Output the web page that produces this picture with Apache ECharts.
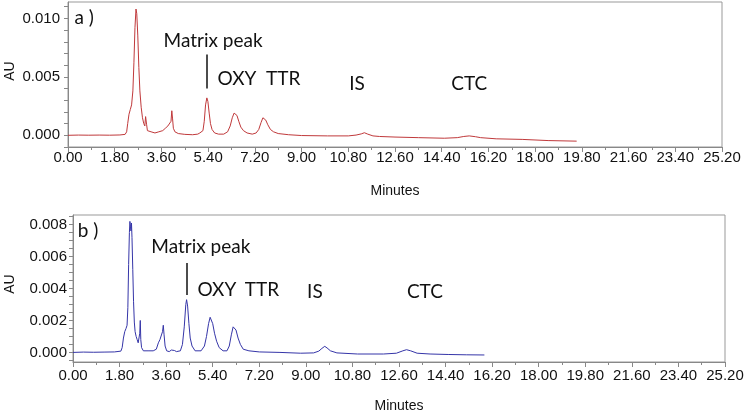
<!DOCTYPE html>
<html>
<head>
<meta charset="utf-8">
<script src="https://cdn.jsdelivr.net/npm/echarts@6/dist/echarts.min.js"></script>
<style>
  html, body { margin: 0; padding: 0; background: #fff; }
  #chart { width: 749px; height: 413px; }
</style>
</head>
<body>
<div id="chart"></div>
<script>
// chromatogram a) (red)
var timeA = [0.00, 0.40, 0.80, 1.20, 1.60, 2.00, 2.20, 2.26, 2.30, 2.35, 2.40, 2.45, 2.50, 2.54, 2.58, 2.62, 2.65, 2.69, 2.73, 2.77,
  2.82, 2.87, 2.92, 2.96, 2.99, 3.01, 3.03, 3.06, 3.10, 3.20, 3.35, 3.50, 3.65, 3.75, 3.85, 3.92, 3.97, 4.00, 4.03, 4.06,
  4.12, 4.25, 4.50, 4.80, 5.00, 5.08, 5.14, 5.20, 5.25, 5.30, 5.35, 5.39, 5.44, 5.49, 5.55, 5.65, 5.80, 6.00, 6.15, 6.25,
  6.33, 6.40, 6.45, 6.51, 6.58, 6.66, 6.76, 6.90, 7.10, 7.25, 7.35, 7.44, 7.51, 7.56, 7.62, 7.70, 7.80, 7.92, 8.10, 8.50,
  9.00, 10.00, 10.80, 11.10, 11.30, 11.42, 11.55, 11.75, 12.00, 12.60, 13.50, 14.50, 15.00, 15.25, 15.46, 15.70, 15.90, 16.50, 17.50, 18.50,
  19.60];
var auA = [0.00000, 0.00002, 0.00001, 0.00002, 0.00001, 0.00003, 0.00008, 0.00030, 0.00100, 0.00180, 0.00220, 0.00260, 0.00380, 0.00620, 0.00920, 0.01080, 0.01040, 0.00850, 0.00580, 0.00380,
  0.00240, 0.00150, 0.00100, 0.00080, 0.00160, 0.00170, 0.00090, 0.00040, 0.00030, 0.00030, 0.00020, 0.00030, 0.00040, 0.00060, 0.00080, 0.00080, 0.00120, 0.00210, 0.00140, 0.00060,
  0.00030, 0.00015, 0.00008, 0.00005, 0.00010, 0.00020, 0.00010, 0.00040, 0.00120, 0.00260, 0.00320, 0.00290, 0.00190, 0.00100, 0.00050, 0.00020, 0.00010, 0.00010, 0.00030, 0.00080,
  0.00150, 0.00190, 0.00200, 0.00170, 0.00120, 0.00070, 0.00040, 0.00020, 0.00010, 0.00020, 0.00050, 0.00110, 0.00150, 0.00155, 0.00130, 0.00090, 0.00050, 0.00030, 0.00015, 0.00005,
  -0.00002, -0.00005, -0.00005, 0.00002, 0.00012, 0.00022, 0.00010, -0.00005, -0.00010, -0.00015, -0.00020, -0.00025, -0.00020, -0.00010, -0.00005, -0.00012, -0.00020, -0.00030, -0.00035, -0.00045,
  -0.00050];

// chromatogram b) (blue)
var timeB = [0.00, 0.40, 0.80, 1.20, 1.60, 1.85, 1.90, 1.95, 2.00, 2.05, 2.09, 2.12, 2.15, 2.18, 2.20, 2.22, 2.24, 2.26, 2.28, 2.31,
  2.34, 2.37, 2.40, 2.44, 2.48, 2.52, 2.55, 2.58, 2.60, 2.62, 2.65, 2.72, 2.90, 3.10, 3.22, 3.30, 3.36, 3.42, 3.46, 3.49,
  3.52, 3.56, 3.62, 3.72, 3.80, 3.86, 3.92, 4.00, 4.15, 4.23, 4.30, 4.36, 4.39, 4.43, 4.48, 4.53, 4.60, 4.72, 4.95, 5.08,
  5.16, 5.24, 5.30, 5.34, 5.40, 5.47, 5.55, 5.65, 5.80, 5.95, 6.04, 6.12, 6.19, 6.24, 6.30, 6.38, 6.47, 6.58, 6.80, 7.20,
  8.00, 8.80, 9.30, 9.50, 9.62, 9.73, 9.82, 9.95, 10.20, 11.00, 12.00, 12.50, 12.75, 12.89, 13.05, 13.30, 13.80, 14.50, 15.20, 15.90];
var auB = [0.00000, 0.00002, 0.00001, 0.00002, 0.00003, 0.00008, 0.00030, 0.00090, 0.00130, 0.00150, 0.00170, 0.00280, 0.00550, 0.00750, 0.00820, 0.00790, 0.00760, 0.00810, 0.00720, 0.00520,
  0.00320, 0.00190, 0.00130, 0.00100, 0.00080, 0.00060, 0.00050, 0.00120, 0.00200, 0.00080, 0.00030, 0.00010, 0.00010, 0.00010, 0.00020, 0.00060, 0.00080, 0.00090, 0.00130, 0.00170,
  0.00110, 0.00040, 0.00010, 0.00005, 0.00015, 0.00020, 0.00012, 0.00005, 0.00010, 0.00050, 0.00160, 0.00300, 0.00330, 0.00290, 0.00180, 0.00090, 0.00040, 0.00010, 0.00010, 0.00040,
  0.00100, 0.00180, 0.00220, 0.00220, 0.00180, 0.00120, 0.00070, 0.00030, 0.00010, 0.00010, 0.00040, 0.00110, 0.00160, 0.00170, 0.00140, 0.00090, 0.00050, 0.00020, 0.00010, 0.00003,
  0.00000, -0.00005, -0.00003, 0.00008, 0.00025, 0.00038, 0.00028, 0.00010, -0.00003, -0.00010, -0.00010, -0.00005, 0.00010, 0.00017, 0.00010, -0.00005, -0.00010, -0.00013, -0.00015, -0.00016];

// axis ticks
var yLabelsA = [0, 0.005, 0.010];
var yTicksA = [-0.001, 0, 0.001, 0.002, 0.003, 0.004, 0.005, 0.006, 0.007, 0.008, 0.009, 0.010, 0.011];
var yLabelsB = [0, 0.002, 0.004, 0.006, 0.008];
var yTicksB = [-0.0005, 0, 0.0005, 0.001, 0.0015, 0.002, 0.0025, 0.003, 0.0035, 0.004, 0.0045, 0.005, 0.0055, 0.006, 0.0065, 0.007, 0.0075, 0.008, 0.0085];

// peak annotations [text, time, AU]
var notesA = [['a )', 0.62, 0.0100], ['Matrix peak', 5.59, 0.0081], ['OXY', 6.51, 0.0048], ['TTR', 8.29, 0.0048], ['IS', 11.14, 0.0044], ['CTC', 15.46, 0.0044]];
var notesB = [['b )', 0.58, 0.0076], ['Matrix peak', 4.94, 0.0066], ['OXY', 5.56, 0.0039], ['TTR', 7.30, 0.0039], ['IS', 9.35, 0.0038], ['CTC', 13.60, 0.0038]];
var barA = [5.36, 0.0040, 0.0069];
var barB = [4.39, 0.0036, 0.0056];

var labelFont = 'Liberation Sans, Arial, sans-serif';
var noteFont = 'Lato, Open Sans, sans-serif';

function zip(t, v) {
  return t.map(function (x, i) { return [x, v[i]]; });
}

function xAxis(gridIndex, margin) {
  return {
    type: 'value', gridIndex: gridIndex,
    min: 0, max: 25.2, interval: 1.8,
    name: 'Minutes', nameLocation: 'middle', nameGap: 37,
    nameTextStyle: { fontFamily: labelFont, fontSize: 14, color: '#111' },
    axisLine: { show: true, onZero: false, lineStyle: { color: '#888' } },
    axisTick: { show: true, length: 5, lineStyle: { color: '#888' } },
    minorTick: { show: true, splitNumber: 2, length: 3, lineStyle: { color: '#888' } },
    splitLine: { show: false },
    axisLabel: {
      fontFamily: labelFont, fontSize: 15, color: '#111', margin: margin,
      formatter: function (v) { return v.toFixed(2); }
    }
  };
}

function yAxis(gridIndex, min, max, labels, ticks, offset, margin) {
  return {
    type: 'value', gridIndex: gridIndex,
    min: min, max: max, offset: offset,
    axisLine: { show: true, lineStyle: { color: '#888' } },
    axisTick: { show: true, length: 4, customValues: ticks, lineStyle: { color: '#888' } },
    splitLine: { show: false },
    axisLabel: {
      fontFamily: labelFont, fontSize: 15, color: '#111', margin: margin,
      customValues: labels,
      formatter: function (v) { return v.toFixed(3); }
    }
  };
}

// rotated "AU" axis titles
function auTitle(y) {
  return {
    type: 'text', x: 10, y: y, rotation: Math.PI / 2,
    style: { text: 'AU', fontFamily: labelFont, fontSize: 14, fill: '#111', align: 'center', verticalAlign: 'middle' }
  };
}

function notePoints(notes) {
  return notes.map(function (n) {
    return {
      coord: [n[1], n[2]], value: n[0],
      symbol: 'circle', symbolSize: 1,
      itemStyle: { color: 'rgba(0,0,0,0)' },
      label: {
        show: true, position: 'inside', formatter: n[0],
        fontFamily: noteFont, fontSize: 19, color: '#111'
      }
    };
  });
}

function series(idx, data, color, notes, bar) {
  return {
    type: 'line', xAxisIndex: idx, yAxisIndex: idx,
    data: data, showSymbol: false, symbol: 'none',
    lineStyle: { color: color, width: 1 },
    silent: true, animation: false,
    markPoint: { silent: true, animation: false, data: notePoints(notes) },
    markLine: {
      silent: true, animation: false, symbol: 'none',
      label: { show: false },
      lineStyle: { color: '#111', width: 1.5, type: 'solid' },
      data: [[{ coord: [bar[0], bar[1]] }, { coord: [bar[0], bar[2]] }]]
    }
  };
}

var chart = echarts.init(document.getElementById('chart'));
chart.setOption({
  animation: false,
  backgroundColor: '#fff',
  grid: [
    { left: 68, right: 27, top: 2, bottom: 266, outerBoundsMode: 'none', show: true, borderColor: '#999', borderWidth: 1, backgroundColor: 'transparent' },
    { left: 73, right: 24, top: 215, bottom: 51, outerBoundsMode: 'none', show: true, borderColor: '#999', borderWidth: 1, backgroundColor: 'transparent' }
  ],
  graphic: [auTitle(71), auTitle(284)],
  xAxis: [xAxis(0, 3), xAxis(1, 6)],
  yAxis: [
    yAxis(0, -0.001, 0.0114, yLabelsA, yTicksA, 3, 5),
    yAxis(1, -0.0006, 0.0086, yLabelsB, yTicksB, 0, 6)
  ],
  series: [
    series(0, zip(timeA, auA), '#c0393b', notesA, barA),
    series(1, zip(timeB, auB), '#3535a8', notesB, barB)
  ]
});
</script>
</body>
</html>
